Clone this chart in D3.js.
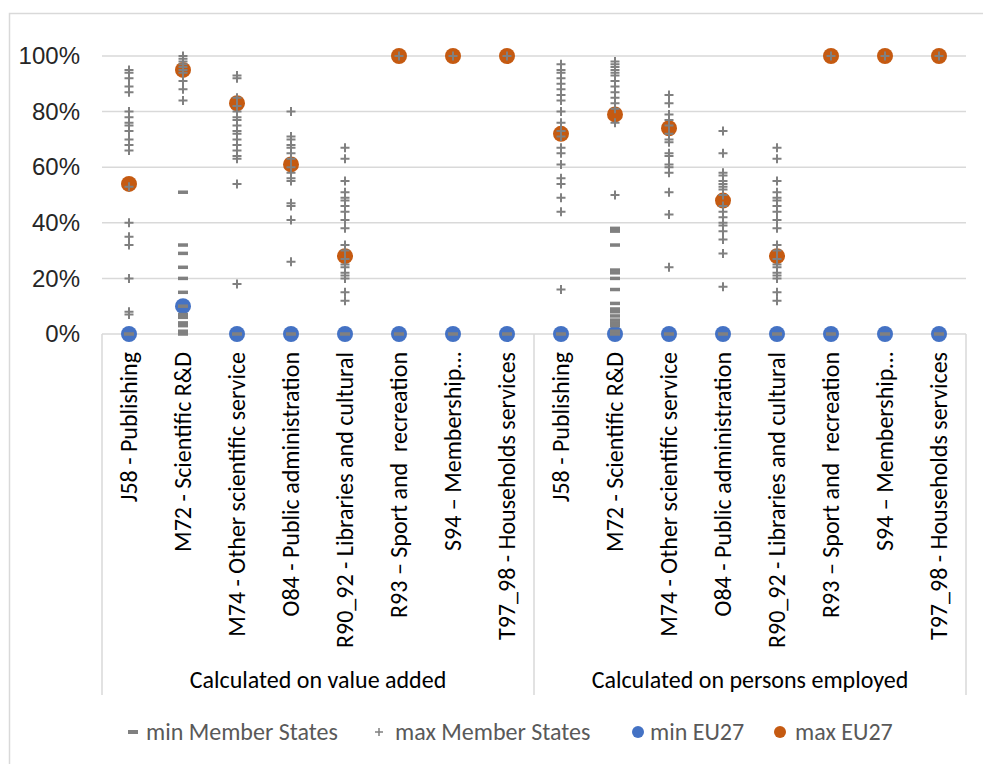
<!DOCTYPE html>
<html>
<head>
<meta charset="utf-8">
<script src="https://cdn.jsdelivr.net/npm/d3@7"></script>
<style>
  body { margin: 0; background: #fff; }
  svg { display: block; font-family: Calibri, Carlito, Lato, sans-serif; }
</style>
</head>
<body>
<div id="chart"></div>
<script>
// groups and sectors on the category axis
var groups = ["Calculated on value added", "Calculated on persons employed"];
var sectors = ["J58 - Publishing", "M72 - Scientific R&D", "M74 - Other scientific service",
    "O84 - Public administration", "R90_92 - Libraries and cultural", "R93 \u2013 Sport and  recreation",
    "S94 \u2013 Membership\u2026", "T97_98 - Households services"];

var yTicks = [0, 0.2, 0.4, 0.6, 0.8, 1];

// EU27 values, one per category (value added first, then persons employed)
var minEU27 = [0, 0.10, 0, 0, 0, 0, 0, 0,   0, 0, 0, 0, 0, 0, 0, 0];
var maxEU27 = [0.54, 0.95, 0.83, 0.61, 0.28, 1, 1, 1,   0.72, 0.79, 0.74, 0.48, 0.28, 1, 1, 1];

// member states, several values per category
var maxMS = [
    [0.95, 0.94, 0.92, 0.89, 0.87, 0.80, 0.78, 0.76, 0.75, 0.73, 0.70, 0.68, 0.66, 0.53, 0.40, 0.35, 0.32, 0.20, 0.08, 0.07],
    [1.00, 0.99, 0.98, 0.97, 0.96, 0.95, 0.94, 0.91, 0.88, 0.84],
    [0.93, 0.92, 0.85, 0.82, 0.80, 0.78, 0.77, 0.75, 0.73, 0.72, 0.70, 0.68, 0.66, 0.64, 0.63, 0.54, 0.18],
    [0.80, 0.71, 0.70, 0.68, 0.67, 0.65, 0.63, 0.60, 0.58, 0.56, 0.55, 0.47, 0.46, 0.41, 0.26],
    [0.67, 0.63, 0.55, 0.51, 0.49, 0.48, 0.46, 0.44, 0.41, 0.38, 0.32, 0.30, 0.27, 0.25, 0.24, 0.22, 0.21, 0.20, 0.15, 0.12],
    [1], [1], [1],
    [0.97, 0.95, 0.94, 0.92, 0.90, 0.88, 0.86, 0.84, 0.80, 0.76, 0.73, 0.71, 0.67, 0.65, 0.61, 0.56, 0.54, 0.49, 0.44, 0.16],
    [0.98, 0.97, 0.96, 0.95, 0.94, 0.93, 0.91, 0.89, 0.87, 0.85, 0.83, 0.81, 0.76, 0.50],
    [0.86, 0.83, 0.79, 0.77, 0.75, 0.72, 0.70, 0.69, 0.65, 0.64, 0.61, 0.60, 0.58, 0.51, 0.43, 0.24],
    [0.73, 0.65, 0.58, 0.57, 0.55, 0.54, 0.53, 0.52, 0.50, 0.46, 0.44, 0.42, 0.40, 0.39, 0.37, 0.34, 0.29, 0.17],
    [0.67, 0.63, 0.55, 0.51, 0.49, 0.48, 0.46, 0.44, 0.41, 0.38, 0.32, 0.30, 0.27, 0.25, 0.24, 0.22, 0.21, 0.20, 0.15, 0.12],
    [1], [1], [1]
];
var minMS = [
    [0],
    [0.51, 0.32, 0.29, 0.24, 0.20, 0.15, 0.10, 0.07, 0.06, 0.04, 0.03, 0.01, 0],
    [0], [0], [0], [0], [0], [0],
    [0],
    [0.38, 0.37, 0.32, 0.23, 0.22, 0.20, 0.16, 0.11, 0.09, 0.08, 0.065, 0.05, 0.04, 0.03, 0.01, 0],
    [0], [0], [0], [0], [0], [0]
];

var legendLabels = ["min Member States", "max Member States", "min EU27", "max EU27"];

drawChart();

function drawChart() {
    var width = 983, height = 764,
        plotLeft = 102, plotRight = 966, plotTop = 56, plotBottom = 334;

    var keys = [];
    groups.forEach(function(g, gi) {
        sectors.forEach(function(s, si) { keys.push(gi * sectors.length + si); });
    });

    var x = d3.scaleBand().domain(keys).range([plotLeft, plotRight]);
    var y = d3.scaleLinear().domain([0, 1]).range([plotBottom, plotTop]);
    var cx = function(d) { return x(d) + x.bandwidth() / 2; };

    var svg = d3.select("#chart").append("svg")
        .attr("width", width)
        .attr("height", height);

    // chart area border
    svg.append("rect")
        .attr("x", 9.5).attr("y", 13.5)
        .attr("width", 990).attr("height", 800)
        .attr("fill", "none")
        .attr("stroke", "#d9d9d9")
        .attr("stroke-width", 1.5);

    // gridlines
    svg.append("g").selectAll("line")
        .data(yTicks)
        .enter().append("line")
        .attr("x1", plotLeft).attr("x2", plotRight)
        .attr("y1", function(d) { return y(d); })
        .attr("y2", function(d) { return y(d); })
        .attr("stroke", "#d9d9d9")
        .attr("stroke-width", 1.5);

    // y axis labels
    var yAxis = d3.axisLeft(y).tickValues(yTicks).tickFormat(d3.format(".0%")).tickSize(0).tickPadding(22);
    svg.append("g")
        .attr("transform", "translate(" + plotLeft + ",0)")
        .call(yAxis)
        .call(function(g) { g.select(".domain").remove(); })
        .selectAll("text")
        .attr("font-family", null)
        .style("font-size", "24px")
        .attr("fill", "#262626");

    // category separators (group boundaries)
    var sepX = [plotLeft, x(sectors.length), plotRight];
    svg.append("g").selectAll("line")
        .data(sepX)
        .enter().append("line")
        .attr("x1", function(d) { return d; }).attr("x2", function(d) { return d; })
        .attr("y1", plotBottom).attr("y2", 695)
        .attr("stroke", "#d9d9d9")
        .attr("stroke-width", 1.5);

    // category labels
    svg.append("g").selectAll("text")
        .data(keys)
        .enter().append("text")
        .attr("transform", function(d) {
            return "translate(" + cx(d) + ",352) rotate(-90)";
        })
        .attr("dy", "0.35em")
        .attr("text-anchor", "end")
        .style("white-space", "pre")
        .style("font-size", "24px")
        .attr("fill", "#000")
        .text(function(d) { return sectors[d % sectors.length]; });

    // group labels
    svg.append("g").selectAll("text")
        .data(groups)
        .enter().append("text")
        .attr("x", function(d, i) { return (sepX[i] + sepX[i + 1]) / 2; })
        .attr("y", 688)
        .attr("text-anchor", "middle")
        .style("font-size", "24px")
        .attr("fill", "#000")
        .text(function(d) { return d; });

    // EU27 circles
    svg.append("g").selectAll("circle")
        .data(keys)
        .enter().append("circle")
        .attr("cx", cx)
        .attr("cy", function(d) { return y(minEU27[d]); })
        .attr("r", 8)
        .attr("fill", "#4472c4");
    svg.append("g").selectAll("circle")
        .data(keys)
        .enter().append("circle")
        .attr("cx", cx)
        .attr("cy", function(d) { return y(maxEU27[d]); })
        .attr("r", 8)
        .attr("fill", "#c55a11");

    // member state markers
    var minPts = [], maxPts = [];
    keys.forEach(function(k) {
        minMS[k].forEach(function(v) { minPts.push({k: k, v: v}); });
        maxMS[k].forEach(function(v) { maxPts.push({k: k, v: v}); });
    });

    svg.append("g").selectAll("rect")
        .data(minPts)
        .enter().append("rect")
        .attr("x", function(d) { return cx(d.k) - 5; })
        .attr("y", function(d) { return y(d.v) - 1.75; })
        .attr("width", 10)
        .attr("height", 3.5)
        .attr("fill", "#808080");

    svg.append("g").selectAll("path")
        .data(maxPts)
        .enter().append("path")
        .attr("d", function(d) {
            var px = cx(d.k), py = y(d.v);
            return "M" + (px - 4.5) + "," + py + "H" + (px + 4.5) + "M" + px + "," + (py - 4.5) + "V" + (py + 4.5);
        })
        .attr("stroke", "#808080")
        .attr("stroke-width", 2)
        .attr("fill", "none");

    // legend
    var legend = svg.append("g").attr("transform", "translate(0,732)");
    var markX = [133, 379, 638, 780],
        textX = [146, 395, 650, 795];
    legendLabels.forEach(function(label, i) {
        if (i === 0) {
            legend.append("rect").attr("x", markX[i] - 5).attr("y", -2).attr("width", 10).attr("height", 4).attr("fill", "#808080");
        } else if (i === 1) {
            legend.append("path")
                .attr("d", "M" + (markX[i] - 4) + ",0H" + (markX[i] + 4) + "M" + markX[i] + ",-4V4")
                .attr("stroke", "#808080").attr("stroke-width", 1.5);
        } else {
            legend.append("circle").attr("cx", markX[i]).attr("cy", 0).attr("r", 6)
                .attr("fill", i === 2 ? "#4472c4" : "#c55a11");
        }
        legend.append("text")
            .attr("x", textX[i])
            .attr("dy", "0.35em")
            .style("font-size", "24px")
            .attr("fill", "#595959")
            .text(label);
    });
}
</script>
</body>
</html>
